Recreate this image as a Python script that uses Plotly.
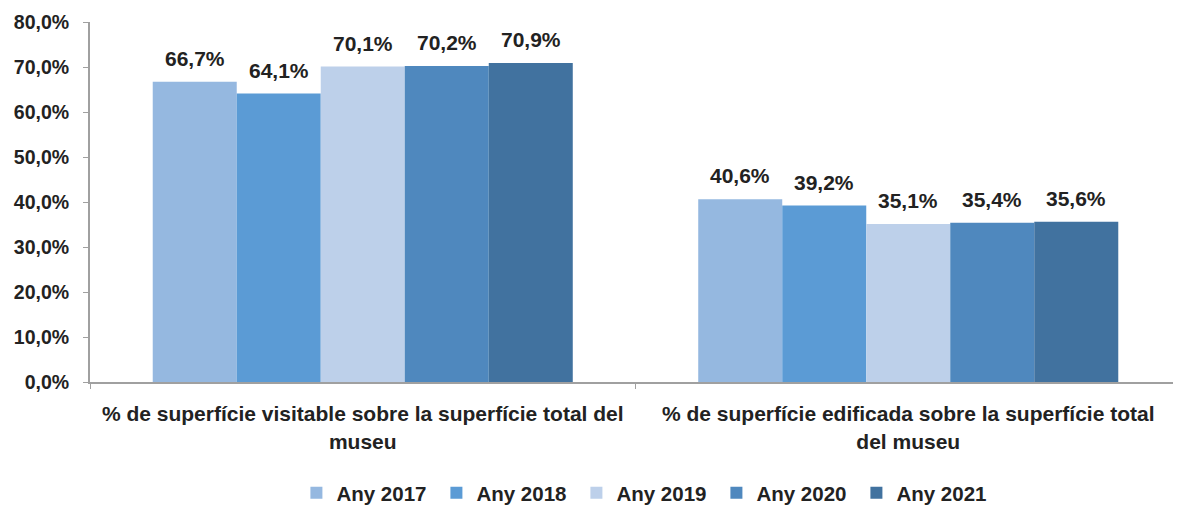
import plotly.graph_objects as go

categories = ["% de superfície visitable sobre la superfície total del<br>museu",
              "% de superfície edificada sobre la superfície total<br>del museu"]
series_names = ["Any 2017", "Any 2018", "Any 2019", "Any 2020", "Any 2021"]
values_visitable = [66.7, 64.1, 70.1, 70.2, 70.9]
values_edificada = [40.6, 39.2, 35.1, 35.4, 35.6]
colors = ["#95B8E0", "#5B9BD5", "#BDD0EA", "#4F88BE", "#41729F"]
y_ticks = [0, 10, 20, 30, 40, 50, 60, 70, 80]
y_tick_labels = ["0,0%", "10,0%", "20,0%", "30,0%", "40,0%", "50,0%", "60,0%", "70,0%", "80,0%"]

font_family = "Liberation Sans, Arial, sans-serif"
text_color = "#222222"
bargap = 0.23

fig = go.Figure()
for i, name in enumerate(series_names):
    vals = [values_visitable[i], values_edificada[i]]
    fig.add_trace(go.Bar(
        name=name, x=categories, y=vals,
        marker=dict(color=colors[i], line=dict(width=0)),
        hoverinfo="skip",
    ))

# data labels as annotations
n = len(series_names)
bw = (1 - bargap) / n
for ci in range(len(categories)):
    for i in range(n):
        v = [values_visitable, values_edificada][ci][i]
        xpos = ci + (i - (n - 1) / 2) * bw
        fig.add_annotation(
            x=xpos, y=v, xref="x", yref="y",
            text="<b>" + f"{v:.1f}".replace(".", ",") + "%</b>",
            showarrow=False, yanchor="bottom", yshift=10,
            font=dict(family=font_family, size=21, color=text_color),
        )

fig.update_layout(
    width=1173, height=497,
    margin=dict(l=82, r=0, t=14, b=123, autoexpand=False),
    paper_bgcolor="white", plot_bgcolor="white",
    barmode="group", bargap=bargap, bargroupgap=0,
    font=dict(family=font_family, color=text_color),
    showlegend=True,
    legend=dict(
        orientation="h", x=0.51, xanchor="center", y=-0.308, yanchor="middle",
        font=dict(family=font_family, size=20.5, color=text_color, weight="bold"),
        itemclick=False, itemwidth=30, entrywidth=95, entrywidthmode="pixels",
    ),
)
fig.update_xaxes(
    type="category", tickson="boundaries", ticks="outside", ticklen=5,
    tickcolor="#A0A0A0", showline=True, linecolor="#A0A0A0", linewidth=2,
    showgrid=False, ticklabelstandoff=12,
    tickfont=dict(family=font_family, size=21, color=text_color, weight="bold"),
)
fig.update_yaxes(
    range=[0, 80], tickvals=y_ticks, ticktext=y_tick_labels,
    ticks="outside", ticklen=5, tickcolor="#A0A0A0", showline=True,
    linecolor="#A0A0A0", linewidth=2, showgrid=False, zeroline=False,
    ticklabelstandoff=10,
    tickfont=dict(family=font_family, size=19.5, color=text_color, weight="bold"),
)

fig.write_html("out.html")
